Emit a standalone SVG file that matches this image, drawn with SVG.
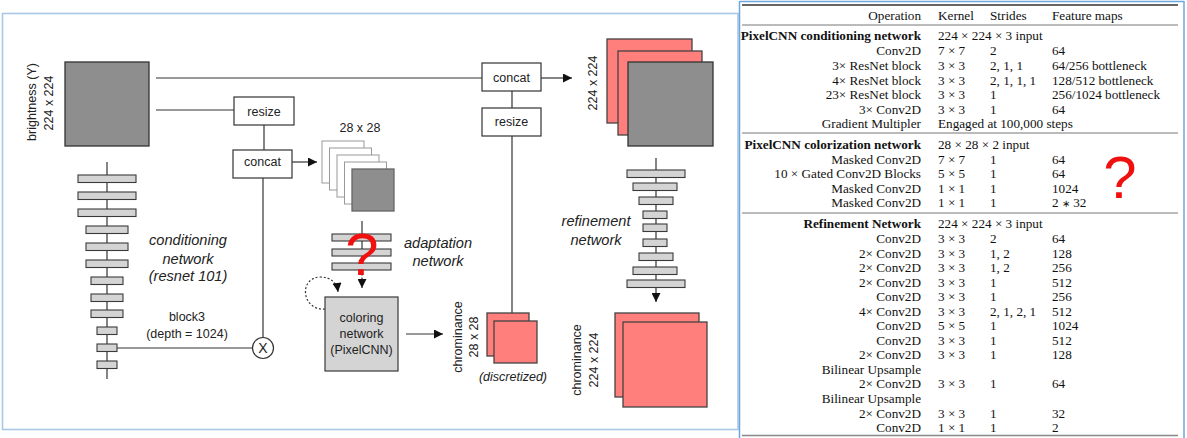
<svg xmlns="http://www.w3.org/2000/svg" width="1187" height="438" viewBox="0 0 1187 438">
<style>
.lbl{font-family:"Liberation Sans",Arial,sans-serif;font-size:12.5px;fill:#222}
.it{font-family:"Liberation Sans",Arial,sans-serif;font-size:14.6px;font-style:italic;fill:#222}
.box{fill:#fff;stroke:#333;stroke-width:1.2}
.bar{fill:#d4d4d4;stroke:#3a3a3a;stroke-width:1.1}
.gray{fill:#8e8e8e;stroke:#333;stroke-width:1.3}
.red{fill:#fe7f7b;stroke:#444;stroke-width:1.3}
.wsq{fill:#fff;stroke:#999;stroke-width:1}
.ln{fill:none;stroke:#333;stroke-width:1.2}
.q{font-family:"Liberation Sans",Arial,sans-serif;font-size:60px;fill:#f01010}
.t{font-family:"Liberation Serif","Times New Roman",serif;font-size:13.2px;fill:#111}
.b{font-weight:bold}
.r{text-anchor:end}
.m{text-anchor:middle}
</style>
<defs>
<marker id="arr" viewBox="0 0 10 10" refX="10" refY="5" markerWidth="10" markerHeight="9" markerUnits="userSpaceOnUse" orient="auto"><path d="M0,0 L10,5 L0,10 z" fill="#111"/></marker>
</defs>
<rect width="1187" height="438" fill="#fff"/>
<!-- frames -->
<rect x="2.5" y="13.5" width="735.5" height="416" fill="none" stroke="#a9c8e6" stroke-width="1.6"/>
<g id="table-frame" fill="none" stroke="#6ea6dc" stroke-width="1.5">
<line x1="739.5" y1="1" x2="739.5" y2="438"/>
<line x1="1184" y1="1" x2="1184" y2="438"/>
<line x1="739.5" y1="1.5" x2="1184" y2="1.5"/>
</g>

<g id="connectors">
<line class="ln" x1="156" y1="78" x2="482" y2="78"/>
<line class="ln" x1="156" y1="110" x2="234" y2="110"/>
<line class="ln" x1="264" y1="125" x2="264" y2="150"/>
<line class="ln" x1="292" y1="162" x2="317" y2="162" marker-end="url(#arr)"/>
<line class="ln" x1="263" y1="178" x2="263" y2="337.5"/>
<line class="ln" x1="117" y1="348" x2="252.5" y2="348"/>
<line class="ln" x1="512" y1="91" x2="512" y2="108"/>
<line class="ln" x1="512" y1="136" x2="512" y2="313"/>
<line class="ln" x1="541" y1="78" x2="572" y2="78" marker-end="url(#arr)"/>
<line class="ln" x1="406" y1="334" x2="443" y2="334" marker-end="url(#arr)"/>
<line class="ln" x1="362" y1="221" x2="362" y2="272"/>
<line class="ln" x1="362" y1="273" x2="362" y2="288" stroke-dasharray="2.5,2" marker-end="url(#arr)"/>
<path class="ln" d="M325,309 C302,311 298,278 320,277 C331,277 337,283 338,292" stroke-dasharray="2,2" marker-end="url(#arr)"/>
<line class="ln" x1="656" y1="158" x2="656" y2="302" marker-end="url(#arr)"/>
<line class="ln" x1="107" y1="162" x2="107" y2="379"/>
</g>

<g id="brightness">
<rect class="gray" x="65" y="62" width="84" height="84"/>
<text class="lbl m" transform="translate(32,102) rotate(-90)" dy="0.35em">brightness (Y)</text>
<text class="lbl m" transform="translate(49,103) rotate(-90)" dy="0.35em">224 x 224</text>
</g>

<g id="resize-left">
<rect class="box" x="234" y="97" width="60" height="28"/>
<text class="lbl m" x="264" y="115.5">resize</text>
</g>
<g id="concat-left">
<rect class="box" x="233" y="150" width="59" height="28"/>
<text class="lbl m" x="262.5" y="166">concat</text>
</g>
<g id="multiply">
<circle cx="263" cy="348" r="10.5" fill="#fff" stroke="#333" stroke-width="1.2"/>
<text class="lbl m" x="263" y="353" style="font-size:14px">X</text>
</g>

<g id="conditioning-network">
<rect class="bar" x="78" y="175" width="58" height="7.5"/>
<rect class="bar" x="78" y="192" width="58" height="7.5"/>
<rect class="bar" x="78" y="209" width="58" height="7.5"/>
<rect class="bar" x="86" y="226" width="42" height="7.5"/>
<rect class="bar" x="86" y="243" width="42" height="7.5"/>
<rect class="bar" x="86" y="260" width="42" height="7.5"/>
<rect class="bar" x="91" y="277" width="32" height="7.5"/>
<rect class="bar" x="91" y="294" width="32" height="7.5"/>
<rect class="bar" x="91" y="310" width="32" height="7.5"/>
<rect class="bar" x="97" y="327" width="20" height="7.5"/>
<rect class="bar" x="97" y="344" width="20" height="7.5"/>
<rect class="bar" x="97" y="361" width="20" height="7.5"/>
<text class="it m" x="188" y="245">conditioning</text>
<text class="it m" x="188" y="264">network</text>
<text class="it m" x="188" y="281">(resnet 101)</text>
<text class="lbl m" x="187" y="320.5">block3</text>
<text class="lbl m" x="187" y="337.5">(depth = 1024)</text>
</g>

<g id="stack-28">
<text class="lbl m" x="360" y="131.5">28 x 28</text>
<rect class="wsq" x="322" y="141" width="42" height="42"/>
<rect class="wsq" x="329.5" y="148" width="42" height="42"/>
<rect class="wsq" x="337" y="155" width="42" height="42"/>
<rect class="wsq" x="344.5" y="162" width="42" height="42"/>
<rect class="gray" x="352" y="169" width="42" height="42" style="stroke:#666"/>
</g>

<g id="adaptation-network">
<rect class="bar" x="332" y="234" width="59" height="7"/>
<rect class="bar" x="332" y="249" width="59" height="7"/>
<rect class="bar" x="332" y="263" width="59" height="7"/>
<text class="it m" x="438" y="248">adaptation</text>
<text class="it m" x="438" y="266">network</text>
<text class="q m" x="362" y="275">?</text>
</g>

<g id="coloring-network">
<rect x="325" y="297" width="73" height="74" fill="#d4d4d4" stroke="#3a3a3a" stroke-width="1.2"/>
<text class="lbl m" x="361.5" y="321.5">coloring</text>
<text class="lbl m" x="361.5" y="337.5">network</text>
<text class="lbl m" x="361.5" y="353.5">(PixelCNN)</text>
</g>

<g id="chrominance-28">
<rect class="red" x="487" y="313" width="42" height="43"/>
<rect class="red" x="494" y="321" width="43" height="42"/>
<text class="lbl m" transform="translate(458,337) rotate(-90)" dy="0.35em">chrominance</text>
<text class="lbl m" transform="translate(474,337) rotate(-90)" dy="0.35em">28 x 28</text>
<text class="lbl m" x="513" y="380.5" style="font-style:italic">(discretized)</text>
</g>

<g id="concat-right">
<rect class="box" x="482" y="63" width="59" height="28"/>
<text class="lbl m" x="511.5" y="81.5">concat</text>
</g>
<g id="resize-right">
<rect class="box" x="482" y="108" width="59" height="28"/>
<text class="lbl m" x="511.5" y="126">resize</text>
</g>

<g id="stack-224">
<rect class="red" x="607" y="39" width="85" height="84"/>
<rect class="red" x="618" y="51" width="84" height="84"/>
<rect class="gray" x="628" y="62" width="85" height="84"/>
<text class="lbl m" transform="translate(593,83) rotate(-90)" dy="0.35em">224 x 224</text>
</g>

<g id="refinement-network">
<rect class="bar" x="627" y="170" width="58" height="7.5"/>
<rect class="bar" x="633" y="183" width="44" height="7.5"/>
<rect class="bar" x="639" y="197" width="34" height="7.5"/>
<rect class="bar" x="643" y="211" width="24" height="7.5"/>
<rect class="bar" x="643" y="224" width="24" height="7.5"/>
<rect class="bar" x="643" y="239" width="24" height="7.5"/>
<rect class="bar" x="639" y="253" width="34" height="7.5"/>
<rect class="bar" x="633" y="267" width="44" height="7.5"/>
<rect class="bar" x="627" y="280" width="58" height="7.5"/>
<text class="it m" x="596" y="226">refinement</text>
<text class="it m" x="596" y="245">network</text>
</g>

<g id="chrominance-224">
<rect class="red" x="615" y="313" width="84" height="84"/>
<rect class="red" x="623" y="322" width="84" height="85"/>
<text class="lbl m" transform="translate(577,360) rotate(-90)" dy="0.35em">chrominance</text>
<text class="lbl m" transform="translate(594,360) rotate(-90)" dy="0.35em">224 x 224</text>
</g>

<g id="table">
<line x1="742" y1="5" x2="1178" y2="5" stroke="#333" stroke-width="1.5"/>
<line x1="742" y1="25" x2="1178" y2="25" stroke="#666" stroke-width="0.9"/>
<line x1="742" y1="133" x2="1178" y2="133" stroke="#666" stroke-width="0.9"/>
<line x1="742" y1="213" x2="1178" y2="213" stroke="#666" stroke-width="0.9"/>
<line x1="742" y1="435.5" x2="1178" y2="435.5" stroke="#888" stroke-width="1.5"/>

<text class="t r" x="921" y="19.5">Operation</text>
<text class="t" x="938" y="19.5">Kernel</text>
<text class="t" x="990" y="19.5">Strides</text>
<text class="t" x="1052" y="19.5">Feature maps</text>

<text class="t b r" x="921" y="39.5">PixelCNN conditioning network</text>
<text class="t" x="938" y="39.5">224 × 224 × 3 input</text>
<text class="t r" x="921" y="54.5">Conv2D</text><text class="t" x="938" y="54.5">7 × 7</text><text class="t" x="990" y="54.5">2</text><text class="t" x="1052" y="54.5">64</text>
<text class="t r" x="921" y="69.5">3× ResNet block</text><text class="t" x="938" y="69.5">3 × 3</text><text class="t" x="990" y="69.5">2, 1, 1</text><text class="t" x="1052" y="69.5">64/256 bottleneck</text>
<text class="t r" x="921" y="84.5">4× ResNet block</text><text class="t" x="938" y="84.5">3 × 3</text><text class="t" x="990" y="84.5">2, 1, 1, 1</text><text class="t" x="1052" y="84.5">128/512 bottleneck</text>
<text class="t r" x="921" y="98.5">23× ResNet block</text><text class="t" x="938" y="98.5">3 × 3</text><text class="t" x="990" y="98.5">1</text><text class="t" x="1052" y="98.5">256/1024 bottleneck</text>
<text class="t r" x="921" y="113.5">3× Conv2D</text><text class="t" x="938" y="113.5">3 × 3</text><text class="t" x="990" y="113.5">1</text><text class="t" x="1052" y="113.5">64</text>
<text class="t r" x="921" y="127.5">Gradient Multipler</text><text class="t" x="938" y="127.5">Engaged at 100,000 steps</text>

<text class="t b r" x="921" y="149">PixelCNN colorization network</text>
<text class="t" x="938" y="149">28 × 28 × 2 input</text>
<text class="t r" x="921" y="163.5">Masked Conv2D</text><text class="t" x="938" y="163.5">7 × 7</text><text class="t" x="990" y="163.5">1</text><text class="t" x="1052" y="163.5">64</text>
<text class="t r" x="921" y="177.5">10 × Gated Conv2D Blocks</text><text class="t" x="938" y="177.5">5 × 5</text><text class="t" x="990" y="177.5">1</text><text class="t" x="1052" y="177.5">64</text>
<text class="t r" x="921" y="192.5">Masked Conv2D</text><text class="t" x="938" y="192.5">1 × 1</text><text class="t" x="990" y="192.5">1</text><text class="t" x="1052" y="192.5">1024</text>
<text class="t r" x="921" y="206.5">Masked Conv2D</text><text class="t" x="938" y="206.5">1 × 1</text><text class="t" x="990" y="206.5">1</text><text class="t" x="1052" y="206.5">2 <tspan style="font-size:10px">∗</tspan> 32</text>

<text class="t b r" x="921" y="227.5">Refinement Network</text>
<text class="t" x="938" y="227.5">224 × 224 × 3 input</text>
<text class="t r" x="921" y="242.5">Conv2D</text><text class="t" x="938" y="242.5">3 × 3</text><text class="t" x="990" y="242.5">2</text><text class="t" x="1052" y="242.5">64</text>
<text class="t r" x="921" y="257.5">2× Conv2D</text><text class="t" x="938" y="257.5">3 × 3</text><text class="t" x="990" y="257.5">1, 2</text><text class="t" x="1052" y="257.5">128</text>
<text class="t r" x="921" y="271.5">2× Conv2D</text><text class="t" x="938" y="271.5">3 × 3</text><text class="t" x="990" y="271.5">1, 2</text><text class="t" x="1052" y="271.5">256</text>
<text class="t r" x="921" y="286.5">2× Conv2D</text><text class="t" x="938" y="286.5">3 × 3</text><text class="t" x="990" y="286.5">1</text><text class="t" x="1052" y="286.5">512</text>
<text class="t r" x="921" y="300.5">Conv2D</text><text class="t" x="938" y="300.5">3 × 3</text><text class="t" x="990" y="300.5">1</text><text class="t" x="1052" y="300.5">256</text>
<text class="t r" x="921" y="315.5">4× Conv2D</text><text class="t" x="938" y="315.5">3 × 3</text><text class="t" x="990" y="315.5">2, 1, 2, 1</text><text class="t" x="1052" y="315.5">512</text>
<text class="t r" x="921" y="329.5">Conv2D</text><text class="t" x="938" y="329.5">5 × 5</text><text class="t" x="990" y="329.5">1</text><text class="t" x="1052" y="329.5">1024</text>
<text class="t r" x="921" y="344.5">Conv2D</text><text class="t" x="938" y="344.5">3 × 3</text><text class="t" x="990" y="344.5">1</text><text class="t" x="1052" y="344.5">512</text>
<text class="t r" x="921" y="358.5">2× Conv2D</text><text class="t" x="938" y="358.5">3 × 3</text><text class="t" x="990" y="358.5">1</text><text class="t" x="1052" y="358.5">128</text>
<text class="t r" x="921" y="373.5">Bilinear Upsample</text>
<text class="t r" x="921" y="387.5">2× Conv2D</text><text class="t" x="938" y="387.5">3 × 3</text><text class="t" x="990" y="387.5">1</text><text class="t" x="1052" y="387.5">64</text>
<text class="t r" x="921" y="402.5">Bilinear Upsample</text>
<text class="t r" x="921" y="417.5">2× Conv2D</text><text class="t" x="938" y="417.5">3 × 3</text><text class="t" x="990" y="417.5">1</text><text class="t" x="1052" y="417.5">32</text>
<text class="t r" x="921" y="431.5">Conv2D</text><text class="t" x="938" y="431.5">1 × 1</text><text class="t" x="990" y="431.5">1</text><text class="t" x="1052" y="431.5">2</text>

<text class="q m" x="1120" y="198">?</text>
</g>
</svg>
